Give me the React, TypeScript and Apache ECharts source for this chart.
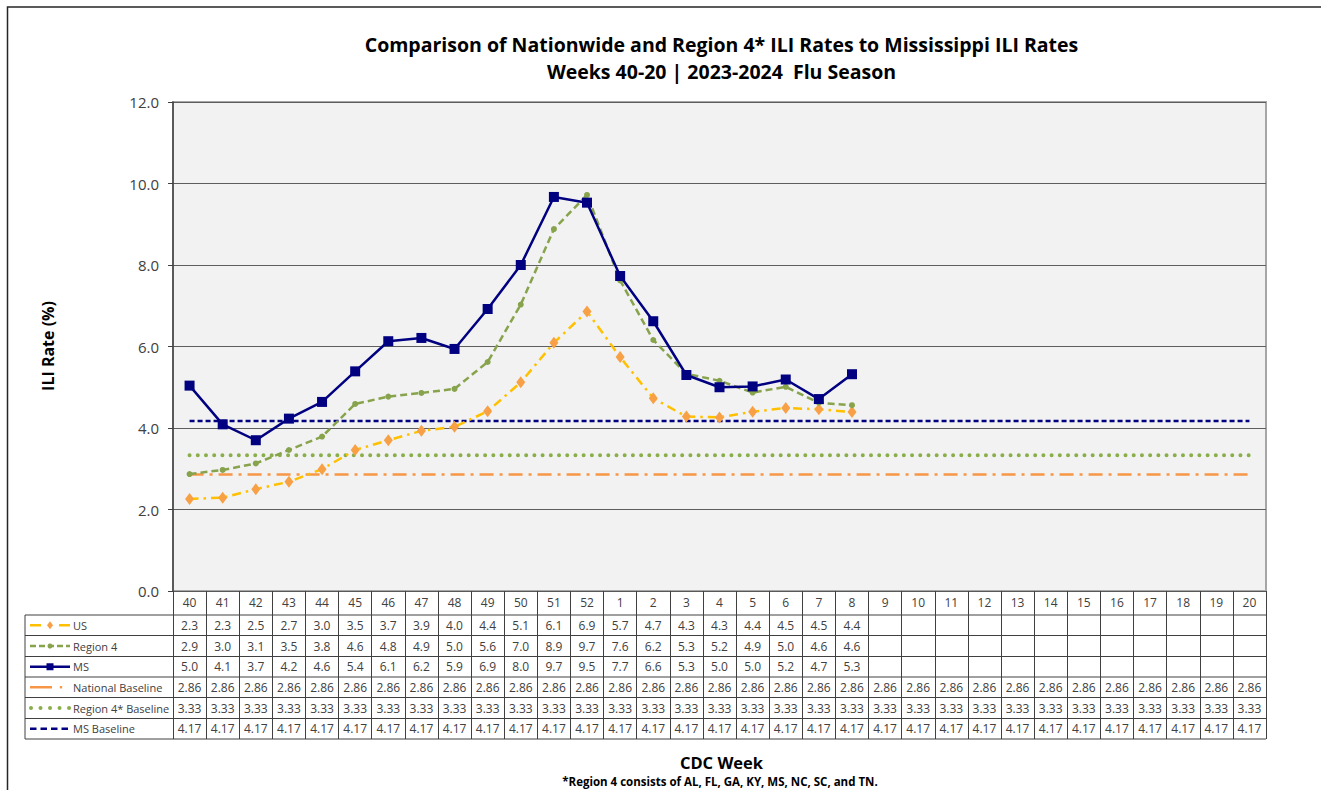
import React, { useEffect, useRef } from 'react';
import * as echarts from 'echarts';

const weeks = ['40','41','42','43','44','45','46','47','48','49','50','51','52','1','2','3','4','5','6','7','8','9','10','11','12','13','14','15','16','17','18','19','20'];

const usRates = [2.26, 2.29, 2.50, 2.68, 2.99, 3.46, 3.70, 3.93, 4.03, 4.41, 5.12, 6.09, 6.86, 5.74, 4.73, 4.28, 4.26, 4.40, 4.49, 4.46, 4.39, null, null, null, null, null, null, null, null, null, null, null, null];
const region4Rates = [2.87, 2.97, 3.13, 3.46, 3.79, 4.59, 4.77, 4.86, 4.96, 5.62, 7.03, 8.88, 9.72, 7.62, 6.16, 5.33, 5.16, 4.87, 5.01, 4.62, 4.56, null, null, null, null, null, null, null, null, null, null, null, null];
const msRates = [5.04, 4.09, 3.70, 4.23, 4.64, 5.39, 6.13, 6.21, 5.94, 6.92, 8.00, 9.67, 9.53, 7.73, 6.62, 5.30, 5.00, 5.02, 5.19, 4.71, 5.32, null, null, null, null, null, null, null, null, null, null, null, null];
const nationalBaseline = [2.86, 2.86, 2.86, 2.86, 2.86, 2.86, 2.86, 2.86, 2.86, 2.86, 2.86, 2.86, 2.86, 2.86, 2.86, 2.86, 2.86, 2.86, 2.86, 2.86, 2.86, 2.86, 2.86, 2.86, 2.86, 2.86, 2.86, 2.86, 2.86, 2.86, 2.86, 2.86, 2.86];
const region4Baseline = [3.33, 3.33, 3.33, 3.33, 3.33, 3.33, 3.33, 3.33, 3.33, 3.33, 3.33, 3.33, 3.33, 3.33, 3.33, 3.33, 3.33, 3.33, 3.33, 3.33, 3.33, 3.33, 3.33, 3.33, 3.33, 3.33, 3.33, 3.33, 3.33, 3.33, 3.33, 3.33, 3.33];
const msBaseline = [4.17, 4.17, 4.17, 4.17, 4.17, 4.17, 4.17, 4.17, 4.17, 4.17, 4.17, 4.17, 4.17, 4.17, 4.17, 4.17, 4.17, 4.17, 4.17, 4.17, 4.17, 4.17, 4.17, 4.17, 4.17, 4.17, 4.17, 4.17, 4.17, 4.17, 4.17, 4.17, 4.17];

const yTicks = { min: 0, max: 12, interval: 2 };
const titleLines = ['Comparison of Nationwide and Region 4* ILI Rates to Mississippi ILI Rates', 'Weeks 40-20 | 2023-2024  Flu Season'];
const seriesNames = ['US', 'Region 4', 'MS', 'National Baseline', 'Region 4* Baseline', 'MS Baseline'];

const FONT = '"Open Sans", "Noto Sans", sans-serif';
const TXT = '#404040';
const C_US_LINE = '#FFC000';
const C_US_MARK = '#F7A045';
const C_R4 = '#87A34C';
const C_MS = '#000080';
const C_NAT = '#F79646';
const C_R4B = '#8AAE4A';

const GRID = { left: 173, top: 102, width: 1093, height: 489 };
const ROW_Y = [591, 615, 635.5, 656.5, 677, 697.5, 718.5, 739];
const LEG_LEFT = 25;

export default function App() {
  const ref = useRef<HTMLDivElement>(null);
  useEffect(() => {
    const chart = echarts.init(ref.current!, null, { renderer: 'svg' });
    const dataRows = [usRates, region4Rates, msRates, nationalBaseline, region4Baseline, msBaseline];
    const fmt = [1, 1, 1, 2, 2, 2];
    chart.setOption({
      animation: false,
      backgroundColor: '#ffffff',
      grid: { ...GRID, show: true, backgroundColor: '#F2F2F2', borderColor: '#A6A6A6', borderWidth: 2 },
      xAxis: {
        type: 'category',
        data: weeks,
        boundaryGap: true,
        axisLine: { show: true, lineStyle: { color: '#595959', width: 1 } },
        axisTick: { show: true, interval: 0, length: ROW_Y[7] - ROW_Y[0], lineStyle: { color: '#404040', width: 1 } },
        axisLabel: { show: true, interval: 0, margin: 5, fontSize: 12, color: TXT, fontFamily: FONT },
        splitLine: { show: false },
      },
      yAxis: {
        type: 'value',
        min: yTicks.min, max: yTicks.max, interval: yTicks.interval,
        axisLine: { show: true, lineStyle: { color: '#404040', width: 1.5 } },
        axisTick: { show: true, length: 5, lineStyle: { color: '#404040' } },
        axisLabel: { margin: 14, fontSize: 15, color: TXT, fontFamily: FONT, formatter: (v: number) => v.toFixed(1) },
        splitLine: { show: true, lineStyle: { color: '#5E5E5E', width: 1 } },
      },
      series: [
        { name: seriesNames[0], type: 'line', data: usRates, symbol: 'diamond', symbolSize: [9, 12], itemStyle: { color: C_US_MARK }, lineStyle: { color: C_US_LINE, width: 2.5, type: [9, 5, 2.5, 5] }, z: 3 },
        { name: seriesNames[1], type: 'line', data: region4Rates, symbol: 'circle', symbolSize: 6, itemStyle: { color: C_R4 }, lineStyle: { color: C_R4, width: 2.5, type: [7, 4] }, z: 3 },
        { name: seriesNames[2], type: 'line', data: msRates, symbol: 'rect', symbolSize: 10, itemStyle: { color: C_MS }, lineStyle: { color: C_MS, width: 2.5 }, z: 4 },
        { name: seriesNames[3], type: 'line', data: nationalBaseline, symbol: 'none', lineStyle: { color: C_NAT, width: 2.5, type: [14, 6, 3, 6] }, z: 2 },
        { name: seriesNames[4], type: 'line', data: region4Baseline, symbol: 'none', lineStyle: { color: C_R4B, width: 4, type: [0.01, 8.2], cap: 'round' }, z: 2 },
        { name: seriesNames[5], type: 'line', data: msBaseline, symbol: 'none', lineStyle: { color: C_MS, width: 2.5, type: [5, 3] }, z: 2 },
      ],
    });

    const xs = weeks.map((_, i) => chart.convertToPixel({ xAxisIndex: 0 }, i) as number);
    const colW = xs[1] - xs[0];
    const tableRight = xs[xs.length - 1] + colW / 2;
    const g: any[] = [];

    g.push({ type: 'rect', shape: { x: 7.5, y: 7, width: 1340, height: 800 }, style: { fill: 'none', stroke: '#262626', lineWidth: 1.5 }, silent: true });
    g.push({ type: 'text', x: 721.5, y: 44, style: { text: titleLines[0], fontSize: 19.5, fontWeight: 'bold', fontFamily: FONT, fill: '#000', align: 'center', verticalAlign: 'middle' } });
    g.push({ type: 'text', x: 721.5, y: 71, style: { text: titleLines[1], fontSize: 19.5, fontWeight: 'bold', fontFamily: FONT, fill: '#000', align: 'center', verticalAlign: 'middle' } });
    g.push({ type: 'text', x: 48, y: 346, rotation: Math.PI / 2, style: { text: 'ILI Rate (%)', fontSize: 16, fontWeight: 'bold', fontFamily: FONT, fill: '#000', align: 'center', verticalAlign: 'middle' } });
    g.push({ type: 'text', x: 721.5, y: 762, style: { text: 'CDC Week', fontSize: 16.5, fontWeight: 'bold', fontFamily: FONT, fill: '#000', align: 'center', verticalAlign: 'middle' } });
    g.push({ type: 'text', x: 720, y: 781, style: { text: '*Region 4 consists of AL, FL, GA, KY, MS, NC, SC, and TN.', fontSize: 11.5, fontWeight: 'bold', fontFamily: FONT, fill: '#000', align: 'center', verticalAlign: 'middle' } });

    for (let r = 1; r < ROW_Y.length; r++) {
      g.push({ type: 'line', shape: { x1: LEG_LEFT, y1: ROW_Y[r], x2: tableRight, y2: ROW_Y[r] }, style: { stroke: '#404040', lineWidth: 1 } });
    }
    g.push({ type: 'line', shape: { x1: LEG_LEFT, y1: ROW_Y[1], x2: LEG_LEFT, y2: ROW_Y[7] }, style: { stroke: '#404040', lineWidth: 1 } });

    dataRows.forEach((row, r) => {
      const cy = (ROW_Y[r + 1] + ROW_Y[r + 2]) / 2;
      row.forEach((v, i) => {
        if (v == null) return;
        g.push({ type: 'text', x: xs[i], y: cy, style: { text: (v as number).toFixed(fmt[r]), fontSize: 12, fontFamily: FONT, fill: TXT, align: 'center', verticalAlign: 'middle' } });
      });
    });

    const kx1 = 30, kx2 = 70, kmid = 50;
    const cys = [0, 1, 2, 3, 4, 5].map(r => (ROW_Y[r + 1] + ROW_Y[r + 2]) / 2);
    // US key: dash, diamond, dash
    g.push({ type: 'line', shape: { x1: kx1, y1: cys[0], x2: 41, y2: cys[0] }, style: { stroke: C_US_LINE, lineWidth: 2.5 } });
    g.push({ type: 'line', shape: { x1: 59, y1: cys[0], x2: kx2, y2: cys[0] }, style: { stroke: C_US_LINE, lineWidth: 2.5 } });
    g.push({ type: 'polygon', shape: { points: [[kmid, cys[0] - 4], [kmid + 3, cys[0]], [kmid, cys[0] + 4], [kmid - 3, cys[0]]] }, style: { fill: C_US_MARK } });
    // Region 4 key
    g.push({ type: 'line', shape: { x1: kx1, y1: cys[1], x2: kx2, y2: cys[1] }, style: { stroke: C_R4, lineWidth: 2.5, lineDash: [6, 3] } });
    g.push({ type: 'circle', shape: { cx: kmid, cy: cys[1], r: 2.5 }, style: { fill: C_R4 } });
    // MS key
    g.push({ type: 'line', shape: { x1: kx1, y1: cys[2], x2: kx2, y2: cys[2] }, style: { stroke: C_MS, lineWidth: 2.5 } });
    g.push({ type: 'rect', shape: { x: kmid - 3.5, y: cys[2] - 3.5, width: 7, height: 7 }, style: { fill: C_MS } });
    // National baseline key
    g.push({ type: 'line', shape: { x1: kx1, y1: cys[3], x2: 52, y2: cys[3] }, style: { stroke: C_NAT, lineWidth: 2.5 } });
    g.push({ type: 'circle', shape: { cx: 61, cy: cys[3], r: 1.3 }, style: { fill: C_NAT } });
    // Region 4* baseline key
    g.push({ type: 'line', shape: { x1: 31, y1: cys[4], x2: 70, y2: cys[4] }, style: { stroke: C_R4B, lineWidth: 4, lineDash: [0.01, 9.5], lineCap: 'round' } });
    // MS baseline key
    g.push({ type: 'line', shape: { x1: kx1, y1: cys[5], x2: kx2, y2: cys[5] }, style: { stroke: C_MS, lineWidth: 2.5, lineDash: [6.5, 4] } });
    seriesNames.forEach((n, r) => {
      g.push({ type: 'text', x: 73, y: cys[r], style: { text: n, fontSize: 11, fontFamily: FONT, fill: TXT, align: 'left', verticalAlign: 'middle' } });
    });

    chart.setOption({ graphic: g });
    return () => chart.dispose();
  }, []);
  return <div ref={ref} style={{ position: 'fixed', left: 0, top: 0, width: 1321, height: 790, background: '#fff' }} />;
}
